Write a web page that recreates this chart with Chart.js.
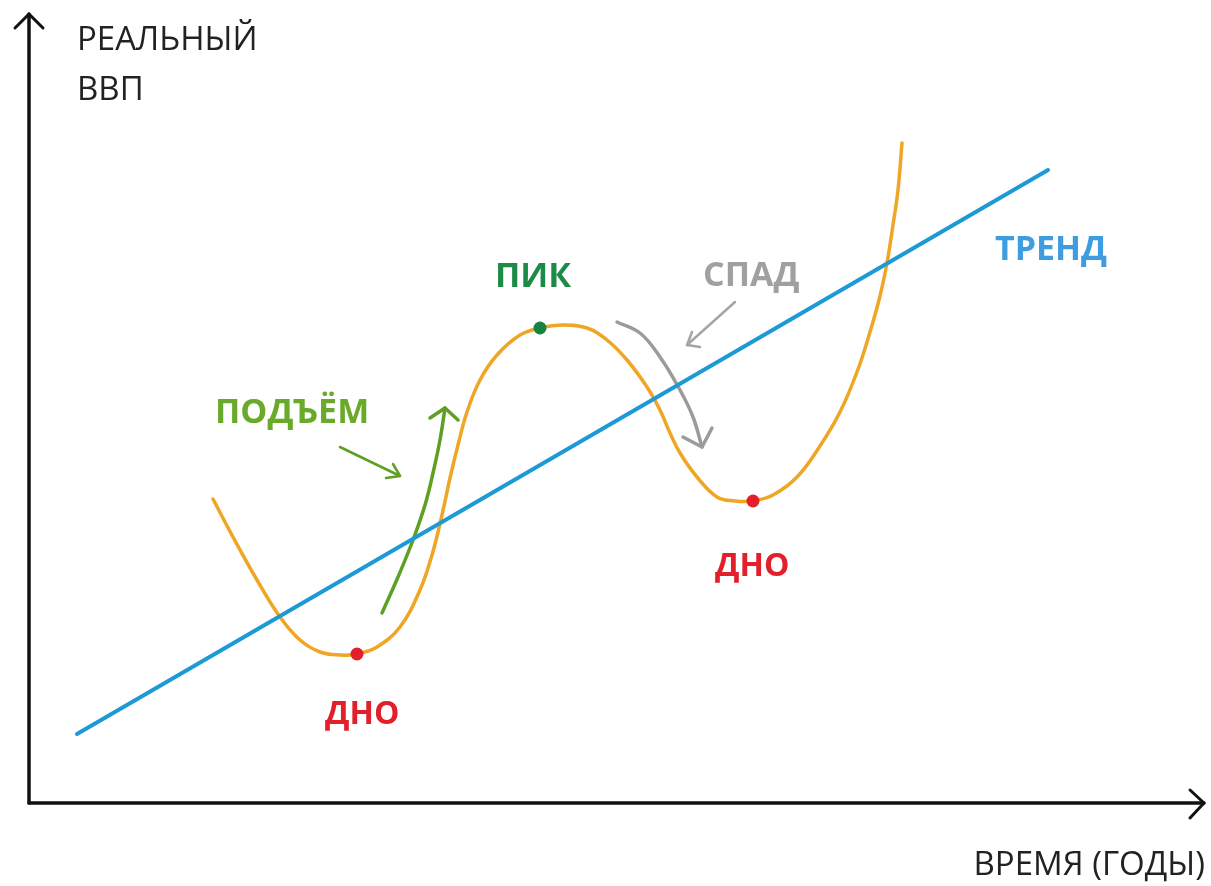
<!DOCTYPE html>
<html><head><meta charset="utf-8">
<script src="https://cdn.jsdelivr.net/npm/chart.js@4/dist/chart.umd.min.js"></script>
<style>html,body{margin:0;padding:0;background:#fff;}canvas{display:block;}</style>
</head><body>
<canvas id="c" width="1211" height="886"></canvas>
<script>
// Business cycle (time units, real GDP units), origin at axis intersection
const cycleTime = [184,204,228,251,271,291,311,328,348,371,391,403,413,421,429,438,451,468,491,511,534,558,578,598,618,631,641,651,668,688,706,724,744,768,791,811,828,841,851,858,864,869,873];
const cycleGDP  = [304,266,223,186,163,151,148,149,156,176,213,248,288,325,358,391,423,448,468,475,478,475,463,443,416,393,370,350,326,306,302,302,308,326,357,391,431,471,507,540,578,613,660];
const trendTime = [48, 1019];
const trendGDP  = [69, 633];
const troughTime = [328, 724];
const troughGDP  = [149, 302];
const peakTime = [511];
const peakGDP  = [475];
// annotation arrows
const riseArrowTime = [353,369,384,396,404,411,416];
const riseArrowGDP  = [190,226,263,298,330,363,395];
const riseHeadTime = [401,416,429];
const riseHeadGDP  = [385,395,383];
const risePointerTime = [311,371];
const risePointerGDP  = [356,327];
const risePointerHeadTime = [357,371,364];
const risePointerHeadGDP  = [325,327,339];
const fallArrowTime = [588,611,631,651,664,673];
const fallArrowGDP  = [481,470,446,413,386,356];
const fallHeadTime = [654,673,683];
const fallHeadGDP  = [366,356,375];
const fallPointerTime = [706,658];
const fallPointerGDP  = [501,458];
const fallPointerHeadTime = [663,658,671];
const fallPointerHeadGDP  = [471,458,456];
// axes
const yAxisTime = [0,0]; const yAxisGDP = [0,789];
const yHeadTime = [-14,0,14]; const yHeadGDP = [775,789,775];
const xAxisTime = [0,1175]; const xAxisGDP = [0,0];
const xHeadTime = [1161,1175,1161]; const xHeadGDP = [13,0,-15];
// labels
const labels = [
  {text:'РЕАЛЬНЫЙ', t:48, g:753, color:'#222', bold:false, size:33, align:'left'},
  {text:'ВВП', t:48, g:703, color:'#222', bold:false, size:33, align:'left'},
  {text:'ВРЕМЯ (ГОДЫ)', t:1176, g:-72, color:'#222', bold:false, size:33, align:'right'},
  {text:'ТРЕНД', t:966, g:543, color:'#3e9de0', bold:true, size:34, align:'left'},
  {text:'ПИК', t:466, g:516, color:'#1c8b48', bold:true, size:34, align:'left'},
  {text:'СПАД', t:674, g:517, color:'#a0a0a0', bold:true, size:34, align:'left'},
  {text:'ПОДЪЁМ', t:186, g:380, color:'#6aaa2a', bold:true, size:34, align:'left'},
  {text:'ДНО', t:686, g:227, color:'#e2202b', bold:true, size:32, align:'left'},
  {text:'ДНО', t:296, g:79, color:'#e2202b', bold:true, size:32, align:'left'}
];

const pts = (xs, ys) => xs.map((x,i)=>({x:x, y:ys[i]}));
const line = (xs, ys, color, width, extra) => Object.assign({
  data: pts(xs, ys), showLine:true, borderColor:color, backgroundColor:color,
  borderWidth:width, pointRadius:0, pointHoverRadius:0, fill:false,
  borderCapStyle:'round', borderJoinStyle:'round', tension:0
}, extra||{});

const labelPlugin = {
  id:'labels',
  afterDatasetsDraw(chart){
    const ctx = chart.ctx, xs = chart.scales.x, ys = chart.scales.y;
    ctx.save();
    labels.forEach(l=>{
      ctx.font = (l.bold ? 'bold ' : '') + l.size + 'px "Open Sans", sans-serif';
      ctx.fillStyle = l.color;
      ctx.textAlign = l.align;
      ctx.textBaseline = 'alphabetic';
      ctx.fillText(l.text, xs.getPixelForValue(l.t), ys.getPixelForValue(l.g));
    });
    ctx.restore();
  }
};

new Chart(document.getElementById('c'), {
  type:'scatter',
  data:{datasets:[
    line(trendTime, trendGDP, '#1d9ad6', 4),
    line(cycleTime, cycleGDP, '#eea624', 3.5, {tension:0.4}),
    line(riseArrowTime, riseArrowGDP, '#5e9f24', 3.5, {tension:0.4}),
    line(riseHeadTime, riseHeadGDP, '#5e9f24', 3.5),
    line(risePointerTime, risePointerGDP, '#5e9f24', 2.5),
    line(risePointerHeadTime, risePointerHeadGDP, '#5e9f24', 2.5),
    line(fallArrowTime, fallArrowGDP, '#9b9b9b', 3.5, {tension:0.4}),
    line(fallHeadTime, fallHeadGDP, '#9b9b9b', 3.5),
    line(fallPointerTime, fallPointerGDP, '#a5a5a5', 2.5),
    line(fallPointerHeadTime, fallPointerHeadGDP, '#a5a5a5', 2.5),
    line(yAxisTime, yAxisGDP, '#111', 3.5),
    line(yHeadTime, yHeadGDP, '#111', 3),
    line(xAxisTime, xAxisGDP, '#111', 3.5),
    line(xHeadTime, xHeadGDP, '#111', 3),
    {data:pts(troughTime, troughGDP), order:-1, pointRadius:6.5, pointBackgroundColor:'#e2202b', pointBorderWidth:0, showLine:false},
    {data:pts(peakTime, peakGDP), order:-1, pointRadius:6.5, pointBackgroundColor:'#158443', pointBorderWidth:0, showLine:false}
  ]},
  options:{
    responsive:false, animation:false, devicePixelRatio:1,
    layout:{padding:0, autoPadding:false},
    plugins:{legend:{display:false}, tooltip:{enabled:false}},
    scales:{
      x:{type:'linear', min:-29, max:1182, display:false},
      y:{type:'linear', min:-83, max:803, display:false}
    }
  },
  plugins:[labelPlugin]
});
</script>
</body></html>
